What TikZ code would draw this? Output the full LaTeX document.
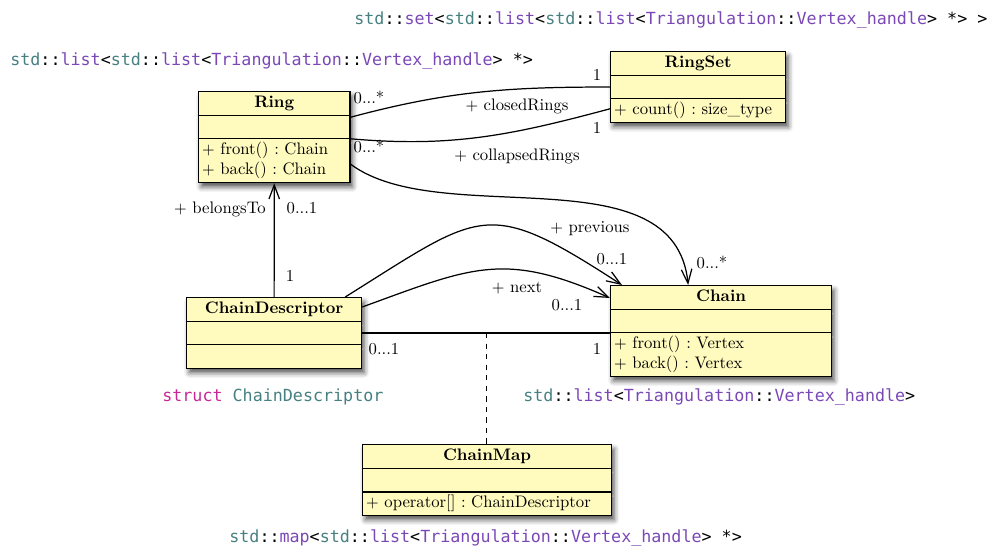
\documentclass[tikz,border=0pt]{standalone}
\usepackage{fontspec}
\setmonofont{DejaVu Sans Mono}
\usepackage{xcolor}
\usepackage{tikz}
\usetikzlibrary{
  positioning,
  arrows.meta,
  calc,
  shapes.multipart,
  shadows.blur
}
\definecolor{ClassYellow}{RGB}{255,250,190}
\definecolor{CodeTeal}{RGB}{70,128,128}
\definecolor{CodePurple}{RGB}{122,72,182}
\definecolor{CodeMagenta}{RGB}{200,40,150}
\frenchspacing

\begin{document}
\begin{tikzpicture}[x=0.02cm,y=0.02cm,
  font=\fontsize{9.5}{11.5}\selectfont,
  >={Straight Barb[length=8pt,width=6pt]},
  umlclass/.style={rectangle split, rectangle split parts=3, draw,
    line width=0.8pt, fill=ClassYellow, align=left,
    inner xsep=2pt, inner ysep=0.55pt, anchor=north west,
    blur shadow={shadow xshift=1.5pt, shadow yshift=-2.5pt,
      shadow blur radius=3pt, shadow opacity=70}},
  assoc/.style={line width=0.7pt},
  multlabel/.style={inner sep=1pt},
  codetext/.style={font=\ttfamily\fontsize{9.5}{11}\selectfont,
    anchor=west, inner sep=0pt}]
  \useasboundingbox (0,0) rectangle (990,-548);

  \def\cstd{\textcolor{CodeTeal}{std}}
  \def\clist{\cstd::\textcolor{CodePurple}{list}}
  \def\vhandle{\textcolor{CodePurple}{Triangulation}::\textcolor{CodePurple}{Vertex\_handle}}

  % ---------- 类 ----------
  \node[umlclass, text width=82pt] (ring) at (198,-91)
    {\hfill\textbf{Ring}\hfill\strut
     \nodepart{second}\strut
     \nodepart{third}\strut$+$ front() : Chain\\\strut$+$ back() : Chain};
  \node[umlclass, text width=95.5pt] (ringset) at (610,-51)
    {\hfill\textbf{RingSet}\hfill\strut
     \nodepart{second}\strut
     \nodepart{third}\mbox{\strut$+$ count() : size\_type}};
  \node[umlclass, text width=95.5pt] (cd) at (186,-297)
    {\hfill\textbf{ChainDescriptor}\hfill\strut
     \nodepart{second}\strut
     \nodepart{third}\strut};
  \node[umlclass, text width=121.7pt] (chain) at (610,-285)
    {\hfill\textbf{Chain}\hfill\strut
     \nodepart{second}\strut
     \nodepart{third}\strut$+$ front() : Vertex\\\strut$+$ back() : Vertex};
  \node[umlclass, text width=137.6pt] (chainmap) at (362,-444)
    {\hfill\textbf{ChainMap}\hfill\strut
     \nodepart{second}\strut
     \nodepart{third}\mbox{\strut$+$ operator[] : ChainDescriptor}};

  % ---------- 关联 ----------
  \draw[assoc] ($(ring.one split east)+(0,-2)$) to[out=15,in=180] (ringset.west);
  \draw[assoc] (ring.two split east)
    to[out=-5,in=195] ($(ringset.two split west)+(0,-10)$);
  \draw[assoc,->] ($(ring.east)+(0,-27)$)
    .. controls +(90,-67) and +(-13,134) .. ($(chain.north)+(-33,0)$);
  \draw[assoc,->] (cd.north) -- (ring.south);
  \draw[assoc,->] ($(cd.north east)+(-17,0)$)
    to[out=32,in=147,looseness=1.5] ($(chain.north west)+(12,0)$);
  \draw[assoc,->] ($(cd.north east)+(0,-10)$)
    to[out=20,in=156,looseness=1.2] ($(chain.north west)+(0,-13)$);
  \draw[assoc] (cd.east) -- coordinate[midway] (mapjoin) (cd.east -| chain.west);
  \draw[assoc,dashed] (mapjoin) -- (mapjoin |- chainmap.north);

  % 角色与重数
  \node[multlabel] (crsrc) at (369,-97) {0...*};
  \node[multlabel] (crdst) at (597,-75) {1};
  \node[multlabel] (crrole) at (517,-106) {$+$ closedRings};
  \node[multlabel] (clsrc) at (369,-146) {0...*};
  \node[multlabel] (cldst) at (597,-128) {1};
  \node[multlabel] (clrole) at (517,-156) {$+$ collapsedRings};
  \node[multlabel] (chdst) at (712,-262) {0...*};
  \node[multlabel] (btrole) at (220,-209) {$+$ belongsTo};
  \node[multlabel] (btdst) at (302,-208) {0...1};
  \node[multlabel] (btsrc) at (290,-276) {1};
  \node[multlabel] (prrole) at (590,-229) {$+$ previous};
  \node[multlabel] (prdst) at (612,-259) {0...1};
  \node[multlabel] (nxrole) at (517,-288) {$+$ next};
  \node[multlabel] (nxdst) at (567,-305) {0...1};
  \node[multlabel] (lksrc) at (384,-349) {0...1};
  \node[multlabel] (lkdst) at (597,-349) {1};

  % C++ 类型
  \node[codetext] (setcode) at (354,-20)
    {\cstd::\textcolor{CodePurple}{set}<\clist<\clist<\vhandle> *> >};
  \node[codetext] (listlistcode) at (10,-61) {\clist<\clist<\vhandle> *>};
  \node[codetext] (structcode) at (162,-397)
    {\textcolor{CodeMagenta}{struct} \textcolor{CodeTeal}{ChainDescriptor}};
  \node[codetext] (listcode) at (523,-397) {\clist<\vhandle>};
  \node[codetext] (mapcode) at (229,-538)
    {\cstd::\textcolor{CodePurple}{map}<\clist<\vhandle> *>};
\end{tikzpicture}
\end{document}
